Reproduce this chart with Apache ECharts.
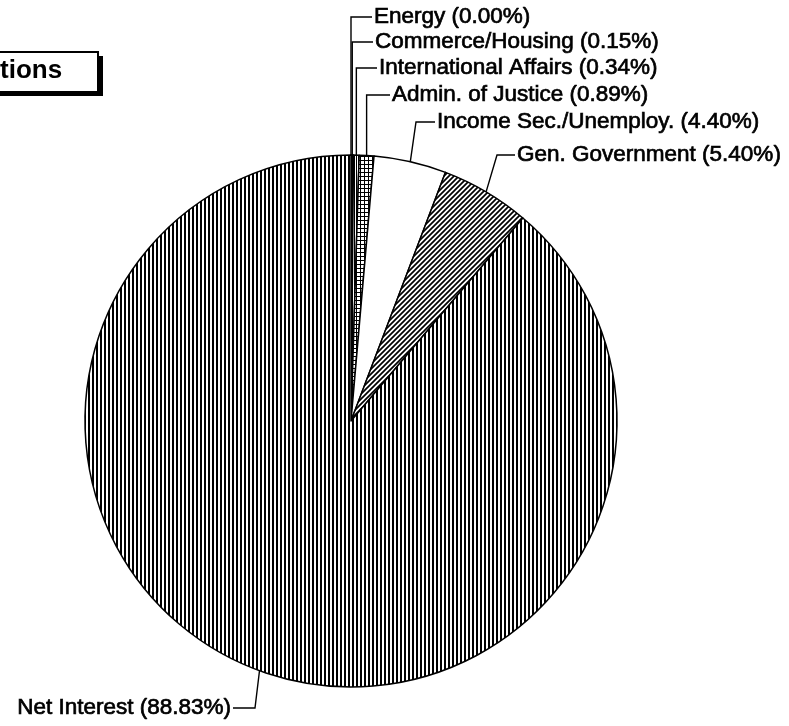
<!DOCTYPE html>
<html>
<head>
<meta charset="utf-8">
<script src="https://cdn.jsdelivr.net/npm/echarts@6/dist/echarts.min.js"></script>
<style>
  html, body { margin: 0; padding: 0; background: #fff; }
  #chart { width: 789px; height: 726px; }
</style>
</head>
<body>
<div id="chart"></div>
<script>
// slice names and shares (percent), clockwise from 12 o'clock
const categories = ['Energy', 'Commerce/Housing', 'International Affairs', 'Admin. of Justice',
  'Income Sec./Unemploy.', 'Gen. Government', 'Net Interest']
const shares = [0.00, 0.15, 0.34, 0.89, 4.40, 5.40, 88.83]
const titleText = 'tions'

// where each leader line bends and ends (layout only)
// elbowX null = go straight up from the slice edge
const labelGuides = [
  { elbowX: null, y: 17, endX: 372, side: 'left' },
  { elbowX: null, y: 42, endX: 373, side: 'left' },
  { elbowX: null, y: 68, endX: 377, side: 'left' },
  { elbowX: null, y: 95, endX: 390, side: 'left' },
  { elbowX: 416, y: 122, endX: 435, side: 'left' },
  { elbowX: 497, y: 155, endX: 515, side: 'left' },
  { elbowX: 255, y: 708, endX: 233, side: 'right' }
]

// hatch tiles, like the old b/w print patterns
function tile(w, h, draw) {
  const c = document.createElement('canvas')
  c.width = w
  c.height = h
  const ctx = c.getContext('2d')
  ctx.fillStyle = '#fff'
  ctx.fillRect(0, 0, w, h)
  ctx.fillStyle = '#000'
  ctx.strokeStyle = '#000'
  draw(ctx)
  return { image: c, repeat: 'repeat' }
}

const vertical = tile(4, 4, ctx => ctx.fillRect(0, 0, 2, 4))
const fineVertical = tile(2, 2, ctx => ctx.fillRect(0, 0, 1, 2))
const grid = tile(4, 4, ctx => {
  ctx.fillRect(0, 0, 4, 1)
  ctx.fillRect(0, 0, 1, 4)
})
const diagonal = tile(5, 5, ctx => {
  ctx.lineWidth = 1.7
  ctx.beginPath()
  ctx.moveTo(-1, 6); ctx.lineTo(6, -1)
  ctx.moveTo(-1, 1); ctx.lineTo(1, -1)
  ctx.moveTo(4, 6); ctx.lineTo(6, 4)
  ctx.stroke()
})

const fills = ['#000', '#000', fineVertical, grid, '#fff', diagonal, vertical]

const chart = echarts.init(document.getElementById('chart'))

const pieData = categories.map((name, i) => ({
  name: name,
  value: shares[i],
  itemStyle: { color: fills[i] }
}))

const font = 'Liberation Sans, Arial, sans-serif'

const option = {
  animation: false,
  backgroundColor: '#fff',
  // cut-off title box with a hard drop shadow
  graphic: [
    {
      type: 'rect',
      shape: { x: -10, y: 56, width: 113, height: 40 },
      style: { fill: '#000' },
      silent: true
    },
    {
      type: 'rect',
      shape: { x: -10, y: 52, width: 108, height: 40 },
      style: { fill: '#fff', stroke: '#000', lineWidth: 2 },
      silent: true
    },
    {
      type: 'text',
      x: 0,
      y: 71,
      silent: true,
      style: {
        text: titleText,
        font: 'bold 26px ' + font,
        fill: '#000',
        align: 'left',
        verticalAlign: 'middle'
      }
    }
  ],
  series: [
    {
      type: 'pie',
      center: [351, 421],
      radius: 266,
      startAngle: 90,
      clockwise: true,
      avoidLabelOverlap: false,
      silent: true,
      itemStyle: {
        borderColor: '#000',
        borderWidth: 1.5
      },
      label: {
        show: true,
        position: 'outside',
        fontFamily: font,
        fontSize: 22.5,
        color: '#000',
        textBorderColor: '#000',
        textBorderWidth: 0.7,
        formatter: p => `${p.name} (${p.value.toFixed(2)}%)`
      },
      labelLine: {
        show: true,
        lineStyle: { color: '#000', width: 1.4 }
      },
      labelLayout: function (params) {
        const g = labelGuides[params.dataIndex]
        const start = params.labelLinePoints[0]
        const elbow = [g.elbowX == null ? start[0] : g.elbowX, g.y]
        const end = [g.endX, g.y]
        return {
          x: g.side === 'left' ? g.endX + 2 : g.endX - 2,
          y: g.y,
          align: g.side,
          verticalAlign: 'middle',
          labelLinePoints: [start, elbow, end]
        }
      },
      emphasis: { disabled: true },
      data: pieData
    }
  ]
}

chart.setOption(option)
</script>
</body>
</html>
